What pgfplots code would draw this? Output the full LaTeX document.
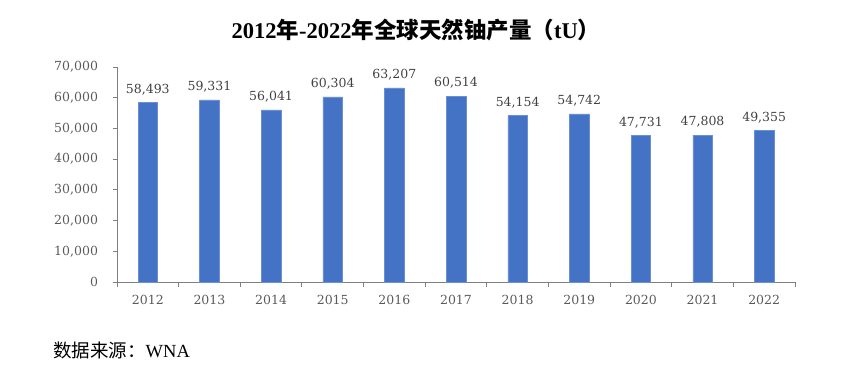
\documentclass[border=0pt]{standalone}
\usepackage{pgfplots}
\pgfplotsset{compat=1.18}
\usepackage{fontspec}
\setmainfont{DejaVu Serif}
\newfontfamily\cjk{Noto Sans CJK SC}
\newfontfamily\tnr{Liberation Serif}
\definecolor{barblue}{HTML}{4472C4}
\definecolor{baredge}{HTML}{6A8FD4}
\definecolor{axisgray}{HTML}{7F7F7F}
\definecolor{ticktext}{HTML}{595959}
\definecolor{valtext}{HTML}{404040}
\begin{document}
\begin{tikzpicture}
\path[use as bounding box] (0pt,0pt) rectangle (865pt,368pt);
\node at (416pt,338pt) {\fontsize{22.5}{22.5}\selectfont\bfseries\tnr 2012{\cjk 年}-2022{\cjk 年全球天然铀产量（}tU{\cjk ）}};
\node[anchor=west,inner sep=0pt] at (53pt,18pt) {\fontsize{18.5}{18.5}\selectfont{\cjk 数据来源：}\tnr WNA};
\begin{axis}[
  at={(117pt,86pt)}, anchor=south west,
  scale only axis, width=678pt, height=215pt,
  xmin=-0.5, xmax=10.5, ymin=0, ymax=70000,
  axis x line=bottom, axis y line=left,
  axis line style={-, draw=axisgray, line width=0.9pt},
  every tick/.style={draw=axisgray, line width=0.9pt},
  tick align=outside,
  major tick length=4.5pt,
  ytick={0,10000,...,70000},
  scaled y ticks=false,
  /pgf/number format/.cd, fixed, 1000 sep={,}, assume math mode=true, /pgfplots/.cd,
  ticklabel style={font=\fontsize{12.5}{12.5}\selectfont, text=ticktext},
  yticklabel style={xshift=-11pt},
  xtick={-0.5,0.5,...,10.5},
  xticklabels={},
  extra x ticks={0,1,...,10},
  extra x tick labels={2012,2013,2014,2015,2016,2017,2018,2019,2020,2021,2022},
  extra x tick style={major tick length=0pt, xticklabel style={yshift=-10pt}},
  ybar, bar width=19.5pt,
  nodes near coords,
  every node near coord/.append style={font=\fontsize{12.5}{12.5}\selectfont, text=valtext, yshift=4pt},
  clip=false,
]
\addplot[fill=barblue, draw=baredge, line width=0.5pt] coordinates {
(0,58493) (1,59331) (2,56041) (3,60304) (4,63207) (5,60514)
(6,54154) (7,54742) (8,47731) (9,47808) (10,49355)};
\end{axis}
\end{tikzpicture}
\end{document}
